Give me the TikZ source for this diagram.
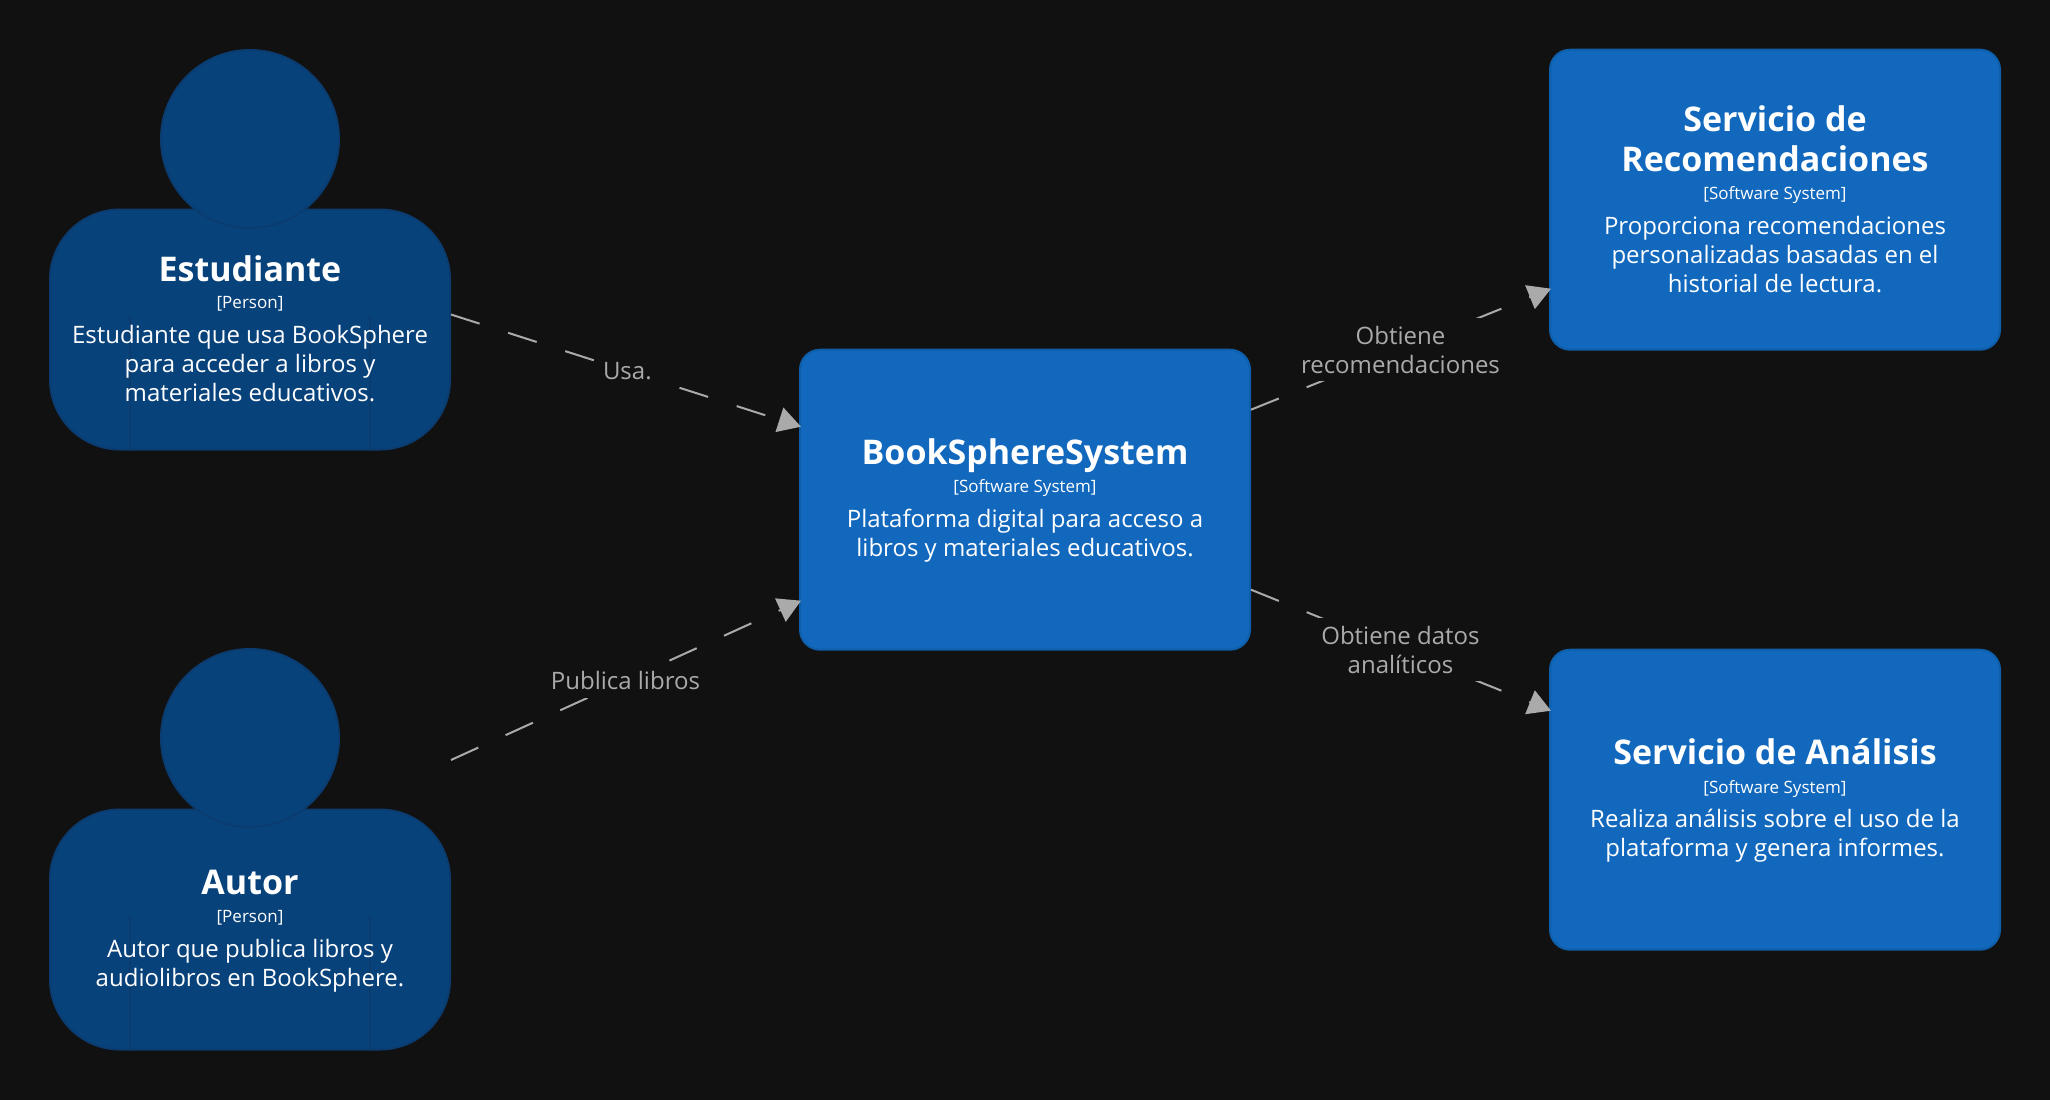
\documentclass[tikz,border=0pt]{standalone}
\usepackage{fontspec}
\setmainfont{Open Sans}
\usetikzlibrary{arrows.meta,calc}
\definecolor{bg}{HTML}{111111}
\definecolor{personfill}{HTML}{08427B}
\definecolor{personline}{HTML}{0A3C70}
\definecolor{sysfill}{HTML}{1168BD}
\definecolor{sysline}{HTML}{0F5EAA}
\definecolor{edgecol}{HTML}{AAAAAA}
\tikzset{
  x=0.75pt,y=-0.75pt,
  sysbox/.style={draw=sysline,line width=1.5pt,fill=sysfill,rounded corners=15pt,minimum width=337.5pt,minimum height=225pt,inner sep=0pt},
  personbody/.style={draw=personline,line width=1.5pt,fill=personfill,rounded corners=52.5pt,minimum width=300pt,minimum height=180pt,inner sep=0pt},
  personhead/.style={circle,draw=personline,line width=1.5pt,fill=personfill,minimum size=133.5pt,inner sep=0pt},
  seam/.style={draw=personline,line width=1pt},
  nametext/.style={anchor=base,text=white,align=center,font=\bfseries\fontsize{25.5}{30}\selectfont,inner sep=0pt},
  metatext/.style={anchor=base,text=white,font=\fontsize{12.75}{15}\selectfont,inner sep=0pt},
  desctext/.style={anchor=base,text=white,align=center,font=\fontsize{18}{21.6}\selectfont,inner sep=0pt},
  relation/.style={draw=edgecol,line width=1.5pt,dash pattern=on 22.5pt off 22.5pt,-{Triangle[length=17pt,width=19pt,fill=edgecol]}},
  rellabel/.style={midway,fill=bg,text=edgecol,align=center,font=\fontsize{18}{21.75}\selectfont,inner xsep=1.5pt,inner ysep=0pt},
  oneline/.style={rellabel,text height=20.5pt,text depth=6.5pt},
  twolines/.style={rellabel,text height=42pt,text depth=5.25pt}
}
\begin{document}
\begin{tikzpicture}
\useasboundingbox (0,0) rectangle (2050,1100);
\fill[bg] (0,0) rectangle (2050,1100);
% persons
\node[personbody] (estBody) at (250,329.5) {};
\draw[seam] (130,316) -- (130,449);
\draw[seam] (370,316) -- (370,449);
\node[personhead] (estHead) at (250,139) {};
\node[personbody] (autBody) at (250,929.5) {};
\draw[seam] (130,916) -- (130,1049);
\draw[seam] (370,916) -- (370,1049);
\node[personhead] (autHead) at (250,738) {};
% systems
\node[sysbox] (sys) at (1025,499.7) {};
\node[sysbox] (rec) at (1775,199.7) {};
\node[sysbox] (ana) at (1775,799.7) {};
% connector ends
\coordinate (usaS) at ($(estBody.east)+(0,-15)$);
\coordinate (usaT) at ($(sys.west)+(2,-73)$);
\coordinate (pubS) at ($(autBody.east)+(0,-169.5)$);
\coordinate (pubT) at ($(sys.west)+(2,101)$);
\coordinate (recS) at ($(sys.east)+(0,-90)$);
\coordinate (recT) at ($(rec.west)+(2,89)$);
\coordinate (anaS) at ($(sys.east)+(0,90)$);
\coordinate (anaT) at ($(ana.west)+(2,-89)$);
% connectors
\draw[relation] (usaS) -- (usaT) node[oneline,xshift=1pt] (lUsa) {Usa.};
\draw[relation] (pubS) -- (pubT) node[oneline,xshift=-0.4pt] (lPub) {Publica libros};
\draw[relation] (recS) -- (recT) node[twolines,xshift=-0.4pt] (lRec) {Obtiene\\recomendaciones};
\draw[relation] (anaS) -- (anaT) node[twolines,xshift=-0.4pt,yshift=0.75pt] (lAna) {Obtiene datos\\analíticos};
% texts
\node[nametext] (estN) at (250,281) {Estudiante};
\node[metatext] (estM) at (250,308) {[Person]};
\node[desctext] (estD) at (250,401.5) {Estudiante que usa BookSphere\\para acceder a libros y\\materiales educativos.};
\node[nametext] (autN) at (250,894.5) {Autor};
\node[metatext] (autM) at (250,922.5) {[Person]};
\node[desctext] (autD) at (250,986) {Autor que publica libros y\\audiolibros en BookSphere.};
\node[nametext] (sysN) at (1025,464) {BookSphereSystem};
\node[metatext] (sysM) at (1025,492.5) {[Software System]};
\node[desctext] (sysD) at (1025,556.5) {Plataforma digital para acceso a\\libros y materiales educativos.};
\node[nametext] (recN) at (1775,171) {Servicio de\\Recomendaciones};
\node[metatext] (recM) at (1775,199) {[Software System]};
\node[desctext] (recD) at (1775,292.5) {Proporciona recomendaciones\\personalizadas basadas en el\\historial de lectura.};
\node[nametext] (anaN) at (1775,764) {Servicio de Análisis};
\node[metatext] (anaM) at (1775,793) {[Software System]};
\node[desctext] (anaD) at (1775,856.5) {Realiza análisis sobre el uso de la\\plataforma y genera informes.};
\end{tikzpicture}
\end{document}
